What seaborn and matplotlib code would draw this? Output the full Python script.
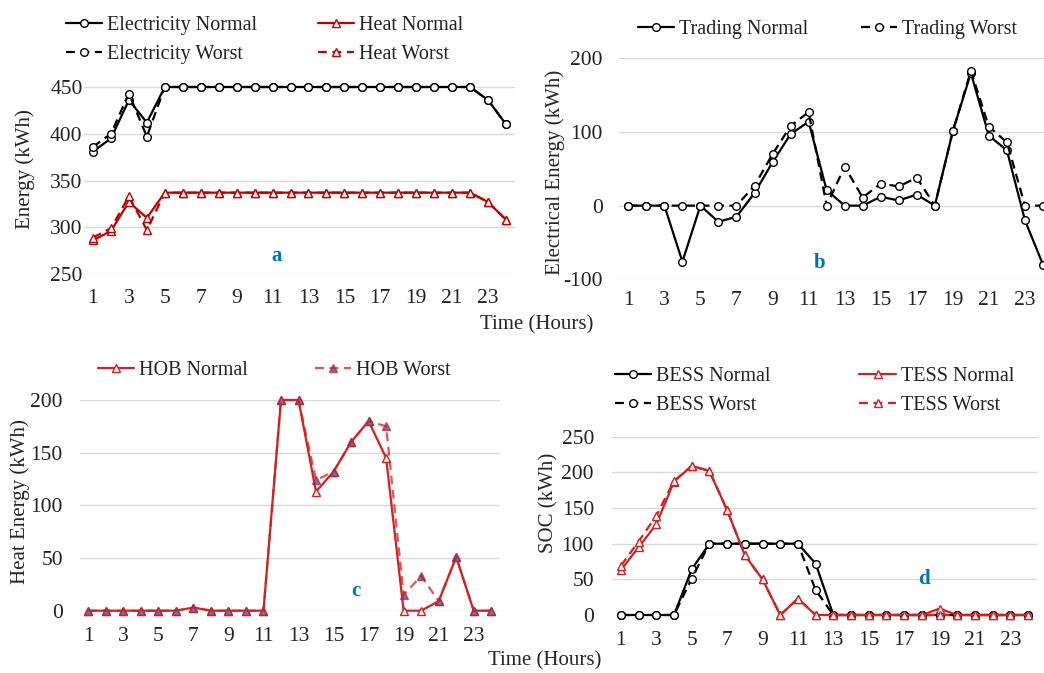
import numpy as np
import pandas as pd
import matplotlib
matplotlib.use("Agg")
import matplotlib.pyplot as plt
import seaborn as sns

# horas del dia
hours = list(range(1, 25))
xtick_labels = [1, 3, 5, 7, 9, 11, 13, 15, 17, 19, 21, 23]

# (a) energia electrica y termica
elec_normal = [381, 395, 436, 412, 450, 450, 450, 450, 450, 450, 450, 450,
               450, 450, 450, 450, 450, 450, 450, 450, 450, 450, 436, 410]
elec_worst = [386, 400, 443, 397, 450, 450, 450, 450, 450, 450, 450, 450,
              450, 450, 450, 450, 450, 450, 450, 450, 450, 450, 436, 410]
heat_normal = [286, 296, 327, 310, 337, 337, 337, 337, 337, 337, 337, 337,
               337, 337, 337, 337, 337, 337, 337, 337, 337, 337, 327, 308]
heat_worst = [289, 299, 333, 297, 337, 337, 337, 337, 337, 337, 337, 337,
              337, 337, 337, 337, 337, 337, 337, 337, 337, 337, 327, 308]

# (b) intercambio con la red
trading_normal = [0, 0, 0, -76, 0, -22, -15, 17, 59, 97, 114, 21,
                  0, 0, 12, 7, 15, 0, 101, 180, 95, 75, -20, -80]
trading_worst = [0, 0, 0, 0, 0, 0, 0, 27, 70, 108, 127, 0,
                 53, 11, 30, 26, 38, 0, 101, 183, 107, 86, 0, 0]

# (c) caldera HOB
hob_normal = [0, 0, 0, 0, 0, 0, 3, 0, 0, 0, 0, 200,
              200, 113, 132, 160, 180, 145, 0, 0, 9, 51, 0, 0]
hob_worst = [0, 0, 0, 0, 0, 0, 3, 0, 0, 0, 0, 200,
             200, 124, 132, 160, 180, 175, 15, 33, 9, 51, 0, 0]

# (d) estado de carga
bess_normal = [0, 0, 0, 0, 64, 100, 100, 100, 100, 100, 100, 72,
               0, 0, 0, 0, 0, 0, 0, 0, 0, 0, 0, 0]
bess_worst = [0, 0, 0, 0, 51, 100, 100, 100, 100, 100, 100, 35,
              0, 0, 0, 0, 0, 0, 0, 0, 0, 0, 0, 0]
tess_normal = [63, 95, 127, 187, 209, 202, 147, 84, 50, 0, 23, 0,
               0, 0, 0, 0, 0, 0, 9, 0, 0, 0, 0, 0]
tess_worst = [69, 103, 139, 188, 209, 202, 147, 84, 50, 0, 23, 0,
              0, 0, 0, 0, 0, 0, 0, 0, 0, 0, 0, 0]

sns.set_style("white")
plt.rcParams['font.family'] = ['Liberation Serif', 'DejaVu Serif']
plt.rcParams['font.size'] = 14
plt.rcParams['axes.unicode_minus'] = False

BLACK = "#000000"
RED_A = "#C00000"
RED = "#D42020"
GRID = "#D9D9D9"
LETTER = "#0070C0"
TXT = "#222222"
DASH = (4, 2.5)
TICK_FS = 15.5
W, H = 1044, 673

fig = plt.figure(figsize=(W / 100, H / 100), dpi=100)


def px_axes(left, right, top, bottom):
    return fig.add_axes([left / W, 1 - bottom / H, (right - left) / W, (bottom - top) / H])


def draw(ax, y, color, marker, dashed=False, face="white", label=None):
    kw = dict(color=color, marker=marker, markersize=5.5, markeredgewidth=1,
              markerfacecolor=face, markeredgecolor=color, linewidth=1.6,
              clip_on=False, label=label)
    if dashed:
        kw["dashes"] = DASH
    sns.lineplot(x=hours, y=y, ax=ax, **kw)


def style(ax, ylim, yticks, ypad, xpad):
    ax.set_xlim(0.5, 24.5)
    ax.set_ylim(*ylim)
    ax.set_yticks(yticks)
    ax.set_xticks(xtick_labels)
    ax.grid(axis="y", color=GRID, linewidth=1)
    ax.set_axisbelow(True)
    for s in ax.spines.values():
        s.set_visible(False)
    ax.tick_params(axis="y", length=0, pad=ypad, labelsize=TICK_FS, colors=TXT)
    ax.tick_params(axis="x", length=0, pad=xpad, labelsize=TICK_FS, colors=TXT)
    ax.set_xlabel("")
    ax.set_ylabel("")


def legend(ax, x, y, colspace):
    leg = ax.legend(loc="upper left", bbox_to_anchor=(x / W, 1 - y / H),
                    bbox_transform=fig.transFigure, ncol=2, frameon=False,
                    borderpad=0, borderaxespad=0, handlelength=1.8,
                    handletextpad=0.25, columnspacing=colspace,
                    labelspacing=0.5, fontsize=14.5)
    for t in leg.get_texts():
        t.set_color(TXT)


# a
ax_a = px_axes(84, 515, 87, 274)
draw(ax_a, elec_normal, BLACK, "o", label="Electricity Normal")
draw(ax_a, elec_worst, BLACK, "o", dashed=True, label="Electricity Worst")
draw(ax_a, heat_normal, RED_A, "^", label="Heat Normal")
draw(ax_a, heat_worst, RED_A, "^", dashed=True, label="Heat Worst")
style(ax_a, (250, 450), [250, 300, 350, 400, 450], 1, 11)
legend(ax_a, 66, 16, 3.0)
ax_a.text(11.25, 269, "a", color=LETTER, fontweight="bold", fontsize=15, ha="center", va="center")

# b
ax_b = px_axes(619.3, 1052, 58.3, 279.3)
draw(ax_b, trading_normal, BLACK, "o", label="Trading Normal")
draw(ax_b, trading_worst, BLACK, "o", dashed=True, label="Trading Worst")
style(ax_b, (-100, 200), [-100, 0, 100, 200], 12, 8.5)
legend(ax_b, 638, 20, 2.6)
ax_b.text(11.6, -78, "b", color=LETTER, fontweight="bold", fontsize=15, ha="center", va="center")

# c
ax_c = px_axes(79.5, 500, 400, 610.7)
draw(ax_c, hob_normal, RED, "^", label="HOB Normal")
draw(ax_c, hob_worst, RED, "^", dashed=True, face="#4B3F8C", label="HOB Worst")
ax_c.lines[1].set_alpha(0.75)
style(ax_c, (0, 200), [0, 50, 100, 150, 200], 12, 12)
legend(ax_c, 98, 361, 3.3)
ax_c.text(16.3, 18.7, "c", color=LETTER, fontweight="bold", fontsize=15, ha="center", va="center")

# d
ax_d = px_axes(612, 1037, 436.7, 615)
draw(ax_d, bess_normal, BLACK, "o", label="BESS Normal")
draw(ax_d, bess_worst, BLACK, "o", dashed=True, label="BESS Worst")
draw(ax_d, tess_normal, RED, "^", label="TESS Normal")
draw(ax_d, tess_worst, RED, "^", dashed=True, label="TESS Worst")
style(ax_d, (0, 250), [0, 50, 100, 150, 200, 250], 13, 11.5)
legend(ax_d, 615, 367, 4.4)
ax_d.text(18.1, 50.5, "d", color=LETTER, fontweight="bold", fontsize=15, ha="center", va="center")

# etiquetas de ejes
fig.text(25 / W, 1 - 169 / H, "Energy (kWh)", rotation=90, ha="center", va="center", fontsize=15)
fig.text(555 / W, 1 - 172 / H, "Electrical Energy (kWh)", rotation=90, ha="center", va="center", fontsize=15)
fig.text(20 / W, 1 - 502 / H, "Heat Energy (kWh)", rotation=90, ha="center", va="center", fontsize=15)
fig.text(549 / W, 1 - 503 / H, "SOC (kWh)", rotation=90, ha="center", va="center", fontsize=15)
fig.text(537 / W, 1 - 325 / H, "Time (Hours)", ha="center", va="center", fontsize=15)
fig.text(545 / W, 1 - 661 / H, "Time (Hours)", ha="center", va="center", fontsize=15)

fig.savefig("out.png", dpi=100)
